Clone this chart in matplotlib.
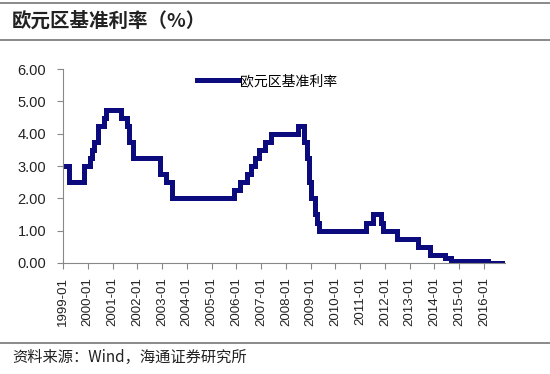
import numpy as np
import matplotlib.pyplot as plt
from matplotlib.lines import Line2D

plt.rcParams['font.family'] = ['Liberation Sans', 'Noto Sans CJK SC', 'DejaVu Sans']

# ECB main refinancing rate: month of each change and new level (%)
change_months = ['1999-01', '1999-04', '1999-11', '2000-02', '2000-03', '2000-04',
                 '2000-06', '2000-09', '2000-10', '2001-05', '2001-08', '2001-09',
                 '2001-11', '2002-12', '2003-03', '2003-06', '2005-12', '2006-03',
                 '2006-06', '2006-08', '2006-10', '2006-12', '2007-03', '2007-06',
                 '2008-07', '2008-10', '2008-11', '2008-12', '2009-01', '2009-03',
                 '2009-04', '2009-05', '2011-04', '2011-07', '2011-11', '2011-12',
                 '2012-07', '2013-05', '2013-11', '2014-06', '2014-09', '2016-03',
                 '2016-11']
rates = [3.00, 2.50, 3.00, 3.25, 3.50, 3.75,
         4.25, 4.50, 4.75, 4.50, 4.25, 3.75,
         3.25, 2.75, 2.50, 2.00, 2.25, 2.50,
         2.75, 3.00, 3.25, 3.50, 3.75, 4.00,
         4.25, 3.75, 3.25, 2.50, 2.00, 1.50,
         1.25, 1.00, 1.25, 1.50, 1.25, 1.00,
         0.75, 0.50, 0.25, 0.15, 0.05, 0.00,
         0.00]
tick_years = list(range(1999, 2017))
series_name = '欧元区基准利率'
title = '欧元区基准利率（%）'
source = '资料来源：Wind，海通证券研究所'


def month_index(s):
    y, m = s.split('-')
    return (int(y) - 1999) * 12 + int(m) - 1


x = np.array([month_index(s) for s in change_months])
y = np.array(rates)

fig = plt.figure(figsize=(5.5, 3.74), dpi=100)
ax = fig.add_axes([0.1145, 0.297, 0.803, 0.518])

ax.step(x, y, where='post', color='#0b0b7e', lw=3.6, label=series_name,
        solid_joinstyle='miter')

ax.set_xlim(0, x[-1])
ax.set_ylim(0, 6)
ax.set_yticks(np.arange(0, 6.01, 1))
ax.set_yticklabels(['%.2f' % v for v in np.arange(0, 6.01, 1)], fontsize=10.5)
ax.set_xticks([(yr - 1999) * 12 for yr in tick_years])
ax.set_xticklabels(['%d-01' % yr for yr in tick_years], rotation=90, fontsize=9.5)

for side in ['top', 'right']:
    ax.spines[side].set_visible(False)
for side in ['left', 'bottom']:
    ax.spines[side].set_color('#888888')
ax.tick_params(axis='both', colors='#888888', length=4, labelcolor='#222222')
ax.tick_params(axis='y', pad=8)
ax.tick_params(axis='x', pad=6)

leg = ax.legend(loc='upper left', bbox_to_anchor=(0.275, 1.04), frameon=False,
                handlelength=3.0, handletextpad=0.1,
                prop={'family': ['Noto Sans CJK SC'], 'size': 10})

# header and footer rules
fig.add_artist(Line2D([0, 1], [0.992, 0.992], color='#777777', lw=1.2))
fig.add_artist(Line2D([0, 1], [0.893, 0.893], color='#777777', lw=1.2))
fig.add_artist(Line2D([0, 1], [0.083, 0.083], color='#777777', lw=1.2))

fig.text(0.022, 0.944, title, fontsize=14, family=['Noto Sans CJK SC'],
         fontweight='bold', va='center', ha='left', color='#222222')
fig.text(0.022, 0.045, source, fontsize=11, family=['Noto Sans CJK SC'],
         va='center', ha='left', color='#222222')

fig.savefig('out.png', dpi=100, facecolor='white')
